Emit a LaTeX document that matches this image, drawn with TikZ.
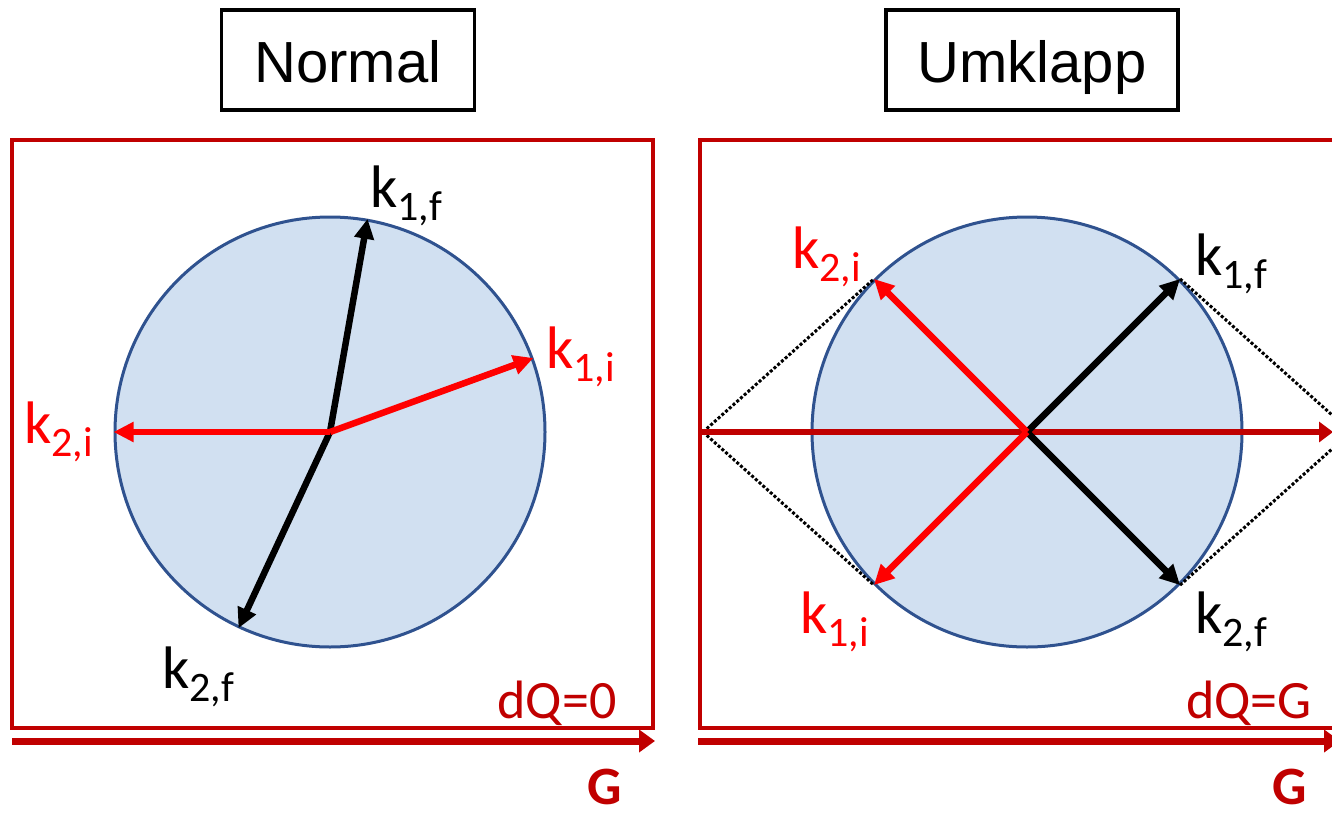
\documentclass[tikz,border=0pt]{standalone}
\usepackage{fontspec}
\setmainfont{Carlito}
\newfontfamily\titlefont{Liberation Sans}
\usetikzlibrary{arrows.meta}
\definecolor{framered}{RGB}{192,0,0}
\definecolor{vecred}{RGB}{255,0,0}
\definecolor{spherefill}{RGB}{209,224,241}
\definecolor{sphereedge}{RGB}{47,82,143}

\newcommand{\kvec}[1]{k\raisebox{-13pt}{\fontsize{42}{42}\selectfont #1}}

\begin{document}
\begin{tikzpicture}[x=1pt,y=-1pt,>=Stealth,
    titlebox/.style={draw,line width=3.5pt,minimum width=253pt,minimum height=100pt,
        font=\titlefont\fontsize{58}{58}\selectfont,text height=44pt,text depth=0pt},
    panel/.style={draw=framered,line width=4pt},
    sphere/.style={circle,draw=sphereedge,line width=3pt,fill=spherefill,
        minimum size=430pt,inner sep=0pt},
    kin/.style={line width=6.5pt,vecred,-{Triangle[length=20pt,width=19pt]}},
    kout/.style={line width=6.5pt,black,-{Triangle[length=20pt,width=19pt]}},
    klab/.style={anchor=base west,inner sep=0pt,font=\fontsize{60}{60}\selectfont},
    gaxis/.style={line width=7pt,framered,-{Triangle[length=16pt,width=22pt]}},
    glab/.style={framered,font=\bfseries\fontsize{54}{54}\selectfont,inner sep=0pt},
    tangent/.style={line width=3pt,dash pattern=on 3pt off 2pt}]
    \useasboundingbox (0,0) rectangle (1332,816);

    % titles
    \node[titlebox] (tnormal) at (348,60) {Normal};
    \node[titlebox,minimum width=292pt] (tumklapp) at (1032,60) {Umklapp};

    % left panel: normal process
    \draw[panel] (12,140) rectangle (653,728);
    \node[sphere] (cL) at (330,432) {};
    \draw[kout] (cL.center) -- (cL.80);
    \draw[kout] (cL.center) -- (cL.245);
    \draw[kin] (cL.center) -- (cL.20);
    \draw[kin] (cL.center) -- (cL.180);
    \node[klab] (lk1f) at (370,207) {\kvec{1,f}};
    \node[klab,vecred] (lk1i) at (546,368) {\kvec{1,i}};
    \node[klab,vecred] (lk2i) at (24,443) {\kvec{2,i}};
    \node[klab] (lk2f) at (162,688) {\kvec{2,f}};
    \node[framered,font=\fontsize{54}{54}\selectfont] (dqL) at (557,703) {dQ=0};
    \coordinate (gL0) at (12,741);
    \coordinate (gL1) at (655,741);
    \draw[gaxis] (gL0) -- (gL1);
    \node[glab] (gL) at (605,787) {G};

    % right panel: umklapp process
    \draw[panel] (700,140) rectangle (1345,728);
    \node[sphere] (cR) at (1027,432) {};
    \coordinate (vL) at (703,432);
    \coordinate (vR) at (1351,432);
    \draw[tangent] (vL) -- (cR.135);
    \draw[tangent] (vL) -- (cR.225);
    \draw[tangent] (cR.45) -- (vR);
    \draw[tangent] (cR.315) -- (vR);
    \coordinate (aL) at (700,432);
    \coordinate (aR) at (1333,432);
    \draw[line width=6pt,framered,-{Triangle[length=14pt,width=20pt]}] (aL) -- (aR);
    \draw[kout] (cR.center) -- (cR.45);
    \draw[kout] (cR.center) -- (cR.315);
    \draw[kin] (cR.center) -- (cR.135);
    \draw[kin] (cR.center) -- (cR.225);
    \node[klab,vecred] (rk2i) at (792,268) {\kvec{2,i}};
    \node[klab] (rk1f) at (1195,275) {\kvec{1,f}};
    \node[klab,vecred] (rk1i) at (800,633) {\kvec{1,i}};
    \node[klab] (rk2f) at (1195,633) {\kvec{2,f}};
    \node[framered,font=\fontsize{54}{54}\selectfont] (dqR) at (1249,703) {dQ=G};
    \coordinate (gR0) at (698,741);
    \coordinate (gR1) at (1340,741);
    \draw[gaxis] (gR0) -- (gR1);
    \node[glab] (gR) at (1290,787) {G};
\end{tikzpicture}
\end{document}
